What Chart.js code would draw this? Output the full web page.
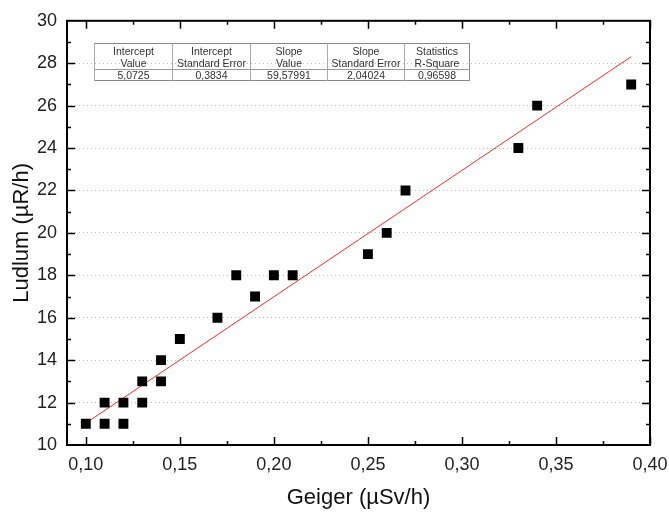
<!DOCTYPE html>
<html>
<head>
<meta charset="utf-8">
<script src="https://cdn.jsdelivr.net/npm/chart.js@4"></script>
<style>
  body { margin: 0; background: #fff; }
  #wrap { position: relative; width: 669px; height: 513px; }
  #stats {
    position: absolute; left: 94px; top: 43px; width: 370px; table-layout: fixed;
    border-collapse: collapse; background: transparent;
    font-family: "Liberation Sans", Arial, sans-serif; font-size: 10.5px; color: #333;
    border: 1px solid #888;
  }
  #stats td { text-align: center; padding: 0; border-left: 1px solid #aaa; overflow: hidden; }
  #stats tr.h1 td { height: 13px; line-height: 14px; }
  #stats tr.h2 td { height: 11px; line-height: 11px; }
  #stats tr.data td { height: 10px; line-height: 10px; border-top: 1px solid #999; }
</style>
</head>
<body>
<div id="wrap">
  <canvas id="chart" width="669" height="513"></canvas>
  <table id="stats"></table>
</div>
<script>
// Data
const geiger = [0.10, 0.11, 0.11, 0.12, 0.12, 0.13, 0.13, 0.14, 0.14, 0.15, 0.17,
                0.18, 0.19, 0.20, 0.21, 0.25, 0.26, 0.27, 0.33, 0.34, 0.39];
const ludlum = [11, 12, 11, 12, 11, 13, 12, 14, 13, 15, 16,
                18, 17, 18, 18, 19, 20, 22, 24, 26, 27];
// ends of the red fit line as seen in the picture
const fitX = [0.10, 0.39];
const fitY = [11.03, 28.31];

const fitHead1 = ['Intercept', 'Intercept', 'Slope', 'Slope', 'Statistics'];
const fitHead2 = ['Value', 'Standard Error', 'Value', 'Standard Error', 'R-Square'];
const fitValues = ['5,0725', '0,3834', '59,57991', '2,04024', '0,96598'];
const colWidths = [77, 77, 76, 76, 64];

// Stats table
const table = document.getElementById('stats');
const rowClass = ['h1', 'h2', 'data'];
[fitHead1, fitHead2, fitValues].forEach((row, r) => {
    const tr = document.createElement('tr');
    tr.className = rowClass[r];
    row.forEach((txt, i) => {
        const td = document.createElement('td');
        td.textContent = txt;
        td.style.width = colWidths[i] + 'px';
        tr.appendChild(td);
    });
    table.appendChild(tr);
});

const comma = v => v.toFixed(2).replace('.', ',');

// Frame + inward ticks like Origin
const frameTicks = {
    id: 'frameTicks',
    afterDraw(chart) {
        const { ctx, chartArea: a, scales: { x, y } } = chart;
        ctx.save();
        ctx.strokeStyle = '#000';
        ctx.lineWidth = 2;
        ctx.strokeRect(a.left, a.top, a.right - a.left, a.bottom - a.top);
        ctx.lineWidth = 1.5;
        ctx.beginPath();
        for (let i = 0; i <= 12; i++) {
            const v = 0.10 + i * 0.025;
            const px = Math.round(x.getPixelForValue(v)) + 0.5;
            const len = i % 2 === 0 ? 8 : 4;
            ctx.moveTo(px, a.bottom); ctx.lineTo(px, a.bottom - len);
            ctx.moveTo(px, a.top); ctx.lineTo(px, a.top + len);
        }
        for (let v = 11; v <= 29; v++) {
            const py = Math.round(y.getPixelForValue(v)) + 0.5;
            const len = v % 2 === 0 ? 8 : 4;
            ctx.moveTo(a.left, py); ctx.lineTo(a.left + len, py);
            ctx.moveTo(a.right, py); ctx.lineTo(a.right - len, py);
        }
        ctx.stroke();
        ctx.restore();
    }
};

new Chart(document.getElementById('chart'), {
    type: 'scatter',
    data: {
        datasets: [{
            label: 'Ludlum',
            data: geiger.map((g, i) => ({ x: g, y: ludlum[i] })),
            pointStyle: 'rect',
            pointRadius: 7,
            backgroundColor: '#000',
            borderColor: '#000',
            borderWidth: 0,
            order: 1
        }, {
            label: 'Fit',
            type: 'line',
            data: fitX.map((g, i) => ({ x: g, y: fitY[i] })),
            borderColor: '#ff2a2a',
            borderWidth: 1,
            pointRadius: 0,
            order: 2
        }]
    },
    options: {
        responsive: false,
        animation: false,
        layout: { padding: { top: 17, right: 19, left: 0, bottom: 0 } },
        plugins: { legend: { display: false }, tooltip: { enabled: false } },
        scales: {
            x: {
                type: 'linear', min: 0.09, max: 0.40,
                afterFit: s => { s.height = 68; s.paddingRight = 0; s.paddingLeft = 0; },
                grid: { display: false, drawTicks: false },
                border: { display: false },
                ticks: {
                    stepSize: 0.05, padding: 9, color: '#222',
                    font: { family: 'Liberation Sans', size: 18 },
                    callback: v => (v >= 0.0999 ? comma(v) : '')
                },
                afterBuildTicks: s => {
                    s.ticks = [0.10, 0.15, 0.20, 0.25, 0.30, 0.35, 0.40].map(v => ({ value: v }));
                },
                title: {
                    display: true, text: 'Geiger (µSv/h)', color: '#111',
                    font: { family: 'Liberation Sans', size: 22 },
                    padding: { top: 0, bottom: 2 }
                }
            },
            y: {
                min: 10, max: 30,
                afterFit: s => { s.width = 67; },
                grid: {
                    color: ctx => (ctx.tick.value === 10 || ctx.tick.value === 30) ? 'rgba(0,0,0,0)' : '#bdbdbd',
                    drawTicks: false, lineWidth: 1
                },
                border: { display: false, dash: [1, 3] },
                ticks: {
                    stepSize: 2, padding: 10, color: '#222',
                    font: { family: 'Liberation Sans', size: 18 }
                },
                title: {
                    display: true, text: 'Ludlum (µR/h)', color: '#111',
                    font: { family: 'Liberation Sans', size: 22 },
                    padding: { top: 9, bottom: 0 }
                }
            }
        }
    },
    plugins: [frameTicks]
});
</script>
</body>
</html>
